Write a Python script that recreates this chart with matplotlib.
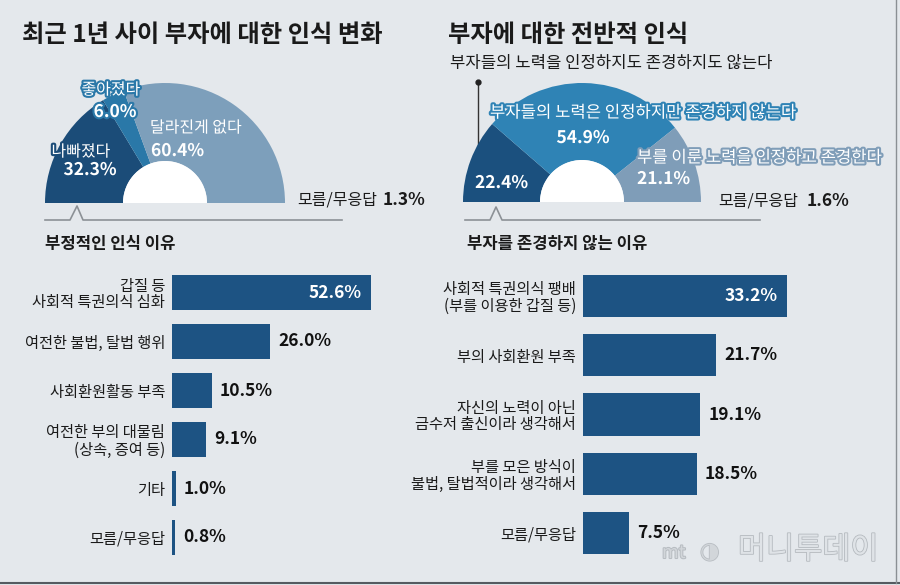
import matplotlib
matplotlib.use("Agg")
import matplotlib.pyplot as plt
import matplotlib.patheffects as pe
from matplotlib.patches import Wedge

plt.rcParams['font.family'] = ['Noto Sans CJK KR', 'DejaVu Sans']

# ---------------- data ----------------
change_labels = ['나빠졌다', '좋아졌다', '달라진게 없다']
change_values = [32.3, 6.0, 60.4]
change_unknown = 1.3

overall_labels = ['부자들의 노력을 인정하지도 존경하지도 않는다',
                  '부자들의 노력은 인정하지만 존경하지 않는다',
                  '부를 이룬 노력을 인정하고 존경한다']
overall_values = [22.4, 54.9, 21.1]
overall_unknown = 1.6

neg_labels = ['갑질 등\n사회적 특권의식 심화', '여전한 불법, 탈법 행위', '사회환원활동 부족',
              '여전한 부의 대물림\n(상속, 증여 등)', '기타', '모름/무응답']
neg_values = [52.6, 26.0, 10.5, 9.1, 1.0, 0.8]

nores_labels = ['사회적 특권의식 팽배\n(부를 이용한 갑질 등)', '부의 사회환원 부족',
                '자신의 노력이 아닌\n금수저 출신이라 생각해서',
                '부를 모은 방식이\n불법, 탈법적이라 생각해서', '모름/무응답']
nores_values = [33.2, 21.7, 19.1, 18.5, 7.5]

titles = ['최근 1년 사이 부자에 대한 인식 변화', '부자에 대한 전반적 인식']
subtitles = ['부정적인 인식 이유', '부자를 존경하지 않는 이유']

# ---------------- style ----------------
BG = '#e4e8ec'
BAR = '#1d5383'
W, H = 900, 585
fig = plt.figure(figsize=(9, 5.85), dpi=100)
fig.patch.set_facecolor(BG)


def px_axes(x0, y0, x1, y1, z=1):
    ax = fig.add_axes([x0 / W, 1 - y1 / H, (x1 - x0) / W, (y1 - y0) / H])
    ax.set_zorder(z)
    return ax


def T(x, y, s, **kw):
    kw.setdefault('va', 'center')
    return fig.text(x / W, 1 - y / H, s, **kw)


# overlay for decorations
ov = px_axes(0, 0, W, H, z=0)
ov.set_xlim(0, W)
ov.set_ylim(H, 0)
ov.axis('off')
ov.patch.set_visible(False)
line_c = '#8c9196'
ov.plot([45, 70, 77, 83, 342], [220, 220, 206, 220, 220], color=line_c, lw=1.2)
ov.plot([465, 490, 496, 502, 760], [220, 220, 207, 220, 220], color=line_c, lw=1.2)
ov.plot([478, 478], [82, 150], color='#333333', lw=1.0)
ov.plot([478], [82], 'o', color='#222222', ms=3.5)
ov.plot([0, W], [583, 583], color='#555a60', lw=1.5)
ov.plot([896, 896], [0, 583], color='#8a8f94', lw=1.0)


def donut(cx, cy, r, rin, values, colors):
    ax = px_axes(cx - r, cy - r, cx + r, cy + r, z=2)
    vals = list(values) + [sum(values)]
    cols = list(colors) + ['none']
    ax.pie(vals, colors=cols, startangle=180, counterclock=False,
           radius=1.0, wedgeprops=dict(width=1 - rin / r, linewidth=0))
    ax.add_patch(Wedge((0, 0), rin / r, 0, 180, color='white', lw=0))
    ax.set_xlim(-1, 1)
    ax.set_ylim(-1, 1)
    ax.set_aspect('equal')
    ax.axis('off')
    return ax


lc = ['#1b4c78', '#2a78a8', '#7d9fbb']
rc = ['#1b507e', '#2f83b5', '#7f9db8']
donut(165, 203, 120, 42, change_values, lc)
donut(582, 202, 119, 42, overall_values, rc)

# titles
T(22, 35, titles[0], fontsize=17.5, fontweight='bold', color='#1a1a1a')
T(448, 35, titles[1], fontsize=17.5, fontweight='bold', color='#1a1a1a')
T(450, 63, overall_labels[0], fontsize=12, color='#1a1a1a')
T(45, 244, subtitles[0], fontsize=12, fontweight='bold', color='#1a1a1a')
T(467, 244, subtitles[1], fontsize=12, fontweight='bold', color='#1a1a1a')


def glow(col, w=3):
    return [pe.withStroke(linewidth=w, foreground=col)]


# left donut labels
T(111, 90, change_labels[1], fontsize=11.5, color='white', ha='center', path_effects=glow(lc[1]))
T(115, 112, f'{change_values[1]:.1f}%', fontsize=12.5, fontweight='bold', color='white',
  ha='center', path_effects=glow(lc[1]))
T(81, 152, change_labels[0], fontsize=11.5, color='white', ha='center', path_effects=glow(lc[0]))
T(90, 170, f'{change_values[0]:.1f}%', fontsize=12.5, fontweight='bold', color='white',
  ha='center', path_effects=glow(lc[0]))
T(150, 128, change_labels[2], fontsize=11.5, color='white', ha='left', path_effects=glow(lc[2]))
T(151, 151, f'{change_values[2]:.1f}%', fontsize=12.5, fontweight='bold', color='white',
  ha='left', path_effects=glow(lc[2]))
T(297, 200, '모름/무응답', fontsize=11.5, color='#1a1a1a')
T(383, 200, f'{change_unknown:.1f}%', fontsize=12.5, fontweight='bold', color='#1a1a1a')

# right donut labels
T(490, 113, overall_labels[1], fontsize=12, color='white', ha='left', path_effects=glow(rc[1]))
T(583, 138, f'{overall_values[1]:.1f}%', fontsize=12.5, fontweight='bold', color='white',
  ha='center', path_effects=glow(rc[1]))
T(637, 158, overall_labels[2], fontsize=12, color='white', ha='left', path_effects=glow(rc[2]))
T(637, 179, f'{overall_values[2]:.1f}%', fontsize=12.5, fontweight='bold', color='white',
  ha='left', path_effects=glow(rc[2]))
T(475, 183, f'{overall_values[0]:.1f}%', fontsize=12.5, fontweight='bold', color='white',
  ha='left', path_effects=glow(rc[0]))
T(718, 201, '모름/무응답', fontsize=11.5, color='#1a1a1a')
T(807, 201, f'{overall_unknown:.1f}%', fontsize=12.5, fontweight='bold', color='#1a1a1a')


def bars(ax, labels, values, xmax, inside_first=True):
    n = len(values)
    y = list(range(n))
    ax.barh(y, values, height=0.71, color=BAR, edgecolor='none')
    ax.set_xlim(0, xmax)
    ax.set_ylim(n - 0.5, -0.5)
    ax.set_yticks(y)
    ax.set_yticklabels(labels, fontsize=11, color='#1a1a1a', linespacing=1.0)
    ax.tick_params(axis='y', length=0, pad=5)
    ax.set_xticks([])
    for s in ax.spines.values():
        s.set_visible(False)
    ax.patch.set_visible(False)
    for i, v in enumerate(values):
        if i == 0 and inside_first:
            ax.annotate(f'{v:.1f}%', (v, i), xytext=(-7, 0), textcoords='offset points',
                        ha='right', va='center', fontsize=12.5, fontweight='bold', color='white')
        else:
            ax.annotate(f'{v:.1f}%', (v, i), xytext=(6, 0), textcoords='offset points',
                        ha='left', va='center', fontsize=12.5, fontweight='bold', color='#111111')


axl = px_axes(172, 268, 172 + 3.78 * 60, 562, z=2)
bars(axl, neg_labels, neg_values, 60)
axr = px_axes(583, 266.4, 583 + 6.14 * 40, 562.6, z=2)
bars(axr, nores_labels, nores_values, 40)

# watermark
T(662, 553, 'mt', fontsize=13, fontstyle='italic', color='#d2d6da',
  path_effects=[pe.withStroke(linewidth=1.5, foreground='#b8bdc2')])
T(700, 552, '◑', fontsize=16, color='#d2d6da',
  path_effects=[pe.withStroke(linewidth=1.2, foreground='#b8bdc2')], family=['DejaVu Sans'])
T(738, 550, '머니투데이', fontsize=22, color='#dfe3e7',
  path_effects=[pe.withStroke(linewidth=1.2, foreground='#b5babf')])

fig.savefig('out.png', dpi=100, facecolor=BG)
